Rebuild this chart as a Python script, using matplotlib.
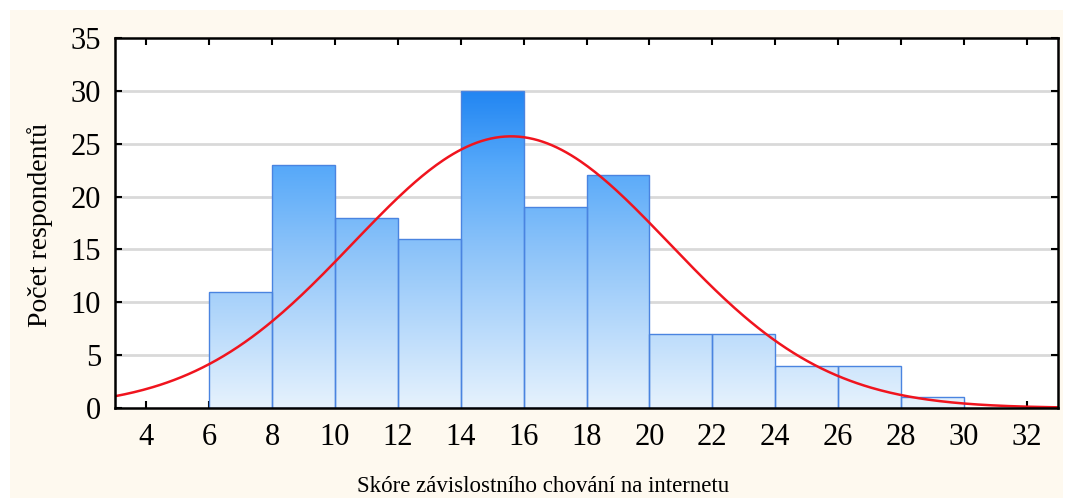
import numpy as np
import matplotlib
matplotlib.use("Agg")
import matplotlib.pyplot as plt
from matplotlib.colors import LinearSegmentedColormap
from matplotlib.path import Path
from matplotlib.patches import PathPatch, Rectangle

# histogram data
bin_edges = [6, 8, 10, 12, 14, 16, 18, 20, 22, 24, 26, 28, 30]
counts = [11, 23, 18, 16, 30, 19, 22, 7, 7, 4, 4, 1]
# fitted normal curve parameters
fit_mean = 15.6
fit_sd = 5.03

x_ticks = list(range(4, 33, 2))
y_ticks = list(range(0, 36, 5))

plt.rcParams["font.family"] = ["Liberation Serif", "DejaVu Serif"]

fig = plt.figure(figsize=(10.65, 4.98), dpi=100, facecolor="white")
fig.patches.append(Rectangle((10 / 1065, 0), 1053 / 1065, 488 / 498, transform=fig.transFigure,
                             facecolor="#FEF9EF", edgecolor="none", zorder=-10))
ax = fig.add_axes([115 / 1065, 1 - 408 / 498, (1058 - 115) / 1065, (408 - 38) / 498])
ax.set_facecolor("white")
ax.set_xlim(3, 33)
ax.set_ylim(0, 35)

for y in y_ticks[1:-1]:
    ax.axhline(y, color="#D9D9D9", lw=2, zorder=1)

# gradient fill clipped to the bars
cmap = LinearSegmentedColormap.from_list("bars", [(0, "#E6F2FD"), (0.5, "#8CC3F9"), (0.77, "#55A8FA"), (1, "#2286F2")])
grad = np.linspace(0, 35, 400).reshape(-1, 1)
img = ax.imshow(grad, extent=(3, 33, 0, 35), origin="lower", aspect="auto", cmap=cmap,
                vmin=0, vmax=30, zorder=2, interpolation="bilinear")
rects = []
for x0, x1, c in zip(bin_edges[:-1], bin_edges[1:], counts):
    rects.append(Path([(x0, 0), (x1, 0), (x1, c), (x0, c), (x0, 0)], closed=True))
clip = PathPatch(Path.make_compound_path(*rects), transform=ax.transData, facecolor="none", edgecolor="none")
ax.add_patch(clip)
img.set_clip_path(clip)
ax.bar(bin_edges[:-1], counts, width=np.diff(bin_edges), align="edge", facecolor="none",
       edgecolor="#4A84E0", lw=1.0, zorder=3)

xs = np.linspace(3, 33, 400)
n = sum(counts)
bw = 2
ys = n * bw / (fit_sd * np.sqrt(2 * np.pi)) * np.exp(-(xs - fit_mean) ** 2 / (2 * fit_sd ** 2))
ax.plot(xs, ys, color="#F0141E", lw=1.8, zorder=4)

ax.set_xticks(x_ticks)
ax.set_yticks(y_ticks)
ax.tick_params(axis="both", direction="in", length=5, width=1.5, labelsize=22,
               top=True, right=True, color="black")
ax.tick_params(axis="x", pad=11)
ax.tick_params(axis="y", pad=10)
for s in ax.spines.values():
    s.set_linewidth(1.8)
    s.set_zorder(5)

fig.text(40 / 1065, 1 - 225 / 498, "Počet respondentů", rotation=90, ha="center", va="center", fontsize=20)
fig.text(543 / 1065, 1 - 486 / 498, "Skóre závislostního chování na internetu", ha="center", va="center", fontsize=16.5)

fig.savefig("out.png", dpi=100, facecolor="white")
